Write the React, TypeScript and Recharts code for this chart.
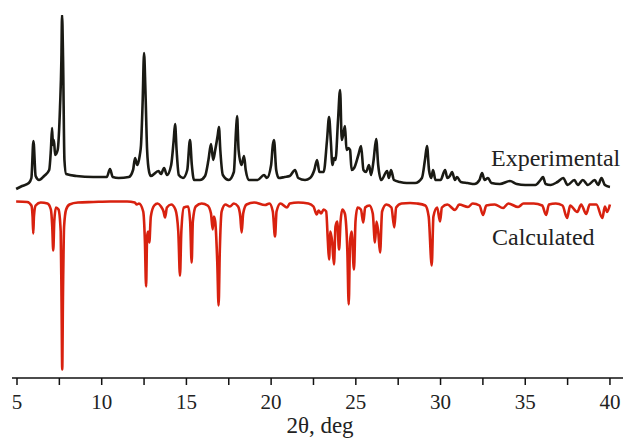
import React from "react";
import { LineChart, Line, XAxis, YAxis, Customized } from "recharts";

// 2θ positions (deg) and intensities (a.u.)
const expTheta = [4.95,5.3,5.7,5.85,5.97,6.1,6.3,6.6,6.9,7.0,7.07,7.12,7.18,7.25,7.4,7.54,7.62,7.66,7.72,7.8,7.9,8.5,9.5,10.3,10.49,10.65,11.0,11.6,11.85,11.97,12.1,12.25,12.32,12.42,12.5,12.58,12.68,12.8,12.9,13.35,13.5,13.68,13.85,14.1,14.25,14.33,14.42,14.55,14.8,15.05,15.21,15.32,15.45,15.8,16.1,16.3,16.45,16.58,16.7,16.85,16.92,17.0,17.15,17.5,17.8,17.93,17.99,18.08,18.25,18.4,18.5,18.7,19.2,19.58,19.75,20.0,20.1,20.17,20.3,20.45,20.8,21.1,21.41,21.6,22.0,22.3,22.55,22.71,22.85,23.1,23.3,23.42,23.52,23.62,23.72,23.8,23.95,24.07,24.17,24.25,24.36,24.45,24.56,24.66,24.75,24.9,25.15,25.31,25.45,25.6,25.78,25.9,26.05,26.2,26.32,26.5,26.85,26.95,27.08,27.25,27.6,28.0,28.5,28.9,29.08,29.2,29.32,29.45,29.56,29.7,30.0,30.27,30.4,30.55,30.68,30.85,30.97,31.2,31.6,32.0,32.3,32.45,32.6,32.8,33.0,33.5,34.1,34.5,35.0,35.6,35.9,36.05,36.2,36.5,36.9,37.24,37.5,37.9,38.1,38.4,38.7,39.1,39.3,39.5,39.7,40.0];
const expIntensity = [11,14,17,22,59,24,20,24,30,50,72,55,60,45,50,93,140,185,140,40,26,24,23,23,31,23,22,23,30,42,35,45,55,100,147,110,50,28,24,29,26,32,25,35,60,76,50,25,22,30,60,35,20,20,24,40,56,40,50,65,73,50,25,20,28,70,84,50,35,44,30,20,20,25,22,35,55,60,30,22,23,24,30,22,20,22,30,40,28,28,60,83,60,35,42,40,80,110,60,65,74,50,52,50,30,32,45,54,30,28,35,25,40,61,35,20,29,22,30,20,18,17,17,22,40,54,30,22,30,20,20,30,22,24,28,20,23,18,17,16,20,27,20,22,17,16,19,16,15,15,20,23,16,15,18,22,15,20,15,20,15,20,15,22,15,13];

const calcTheta = [4.95,5.6,5.85,5.92,5.96,6.0,6.1,6.4,6.8,7.0,7.08,7.14,7.2,7.3,7.45,7.58,7.63,7.67,7.71,7.78,7.9,8.1,8.6,9.5,10.5,11.5,11.95,12.07,12.2,12.45,12.55,12.62,12.68,12.74,12.81,12.9,13.1,13.3,13.5,13.65,13.74,13.85,14.1,14.35,14.52,14.62,14.7,14.85,15.1,15.22,15.31,15.38,15.55,15.9,16.25,16.45,16.55,16.62,16.7,16.82,16.9,16.97,17.08,17.3,17.57,17.8,18.05,18.18,18.26,18.35,18.55,19.0,19.64,19.9,20.1,20.23,20.32,20.55,20.94,21.1,21.6,22.2,22.5,22.69,22.8,22.95,23.1,23.25,23.35,23.42,23.5,23.6,23.71,23.8,23.9,24.01,24.1,24.2,24.35,24.5,24.58,24.66,24.75,24.89,24.98,25.1,25.3,25.44,25.55,25.8,26.0,26.13,26.22,26.32,26.43,26.55,26.8,27.1,27.27,27.38,27.7,28.2,28.6,29.1,29.3,29.48,29.58,29.8,29.97,30.08,30.4,30.86,31.1,31.62,31.9,32.3,32.51,32.7,33.2,33.69,34.0,34.58,34.9,35.5,36.0,36.23,36.4,36.8,37.2,37.47,37.65,38.07,38.3,38.6,38.8,39.2,39.55,39.7,39.83,40.0];
const calcIntensity = [0,0.5,4,15,32,15,4,1,2,8,25,49,20,6,8,30,100,168,100,25,8,3,1,0.5,0,0,1,3,2,10,40,85,35,30,41,15,4,2,5,10,16,6,3,8,30,74,30,6,5,20,61,20,5,2,4,12,28,15,20,60,104,50,10,3,5,2,5,15,31,12,3,1,3.5,2,10,35,10,2,6,2,1,2,5,13,9,12,8,10,40,58,30,40,63,25,20,48,20,8,12,50,103,40,30,68,20,6,8,21,6,4,12,41,20,30,51,10,3,6,26,6,2,1.5,2,4,15,64,15,6,20,6,3,8.5,3,5.5,2,4,13.5,4,3,6.5,2,5.5,2,2,4,13.5,3,2,4,16.5,4,10.5,3,12.5,3,3,16.5,5,10.5,3];

const xTicks = [5,7.5,10,12.5,15,17.5,20,22.5,25,27.5,30,32.5,35,37.5,40];

const EXP_OFFSET = 178;
const CALC_OFFSET = 176.5;

const expData = expTheta.map((t, i) => ({ t, y: EXP_OFFSET + expIntensity[i] }));
const calcData = calcTheta.map((t, i) => ({ t, y: CALC_OFFSET - calcIntensity[i] }));

const FONT = "'Liberation Serif', 'Times New Roman', serif";

const Texts = () => (
  <g fontFamily={FONT} fill="#222">
    <text x={491} y={166} fontSize={24}>Experimental</text>
    <text x={492} y={245} fontSize={24}>Calculated</text>
    <text x={320} y={433} fontSize={23} textAnchor="middle">2θ, deg</text>
  </g>
);

export default function App() {
  return (
    <div style={{ position: "absolute", left: 0, top: 0, width: 623, height: 438, background: "#fff" }}>
      <LineChart width={623} height={438} margin={{ top: 15, right: 0, bottom: 0, left: 12 }}>
        <XAxis
          type="number"
          dataKey="t"
          domain={[4.705, 40.77]}
          allowDataOverflow
          ticks={xTicks}
          interval={0}
          tickFormatter={(v: number) => (v % 5 === 0 ? String(v) : "")}
          height={60}
          tickSize={7}
          tickMargin={9}
          stroke="#111"
          strokeWidth={1.5}
          tick={{ fill: "#222", fontSize: 21, fontFamily: FONT }}
        />
        <YAxis hide type="number" domain={[0, 363]} allowDataOverflow />
        <Line data={expData} dataKey="y" type="monotoneX" stroke="#1a1a14" strokeWidth={2.6} strokeLinejoin="round" dot={false} isAnimationActive={false} />
        <Line data={calcData} dataKey="y" type="monotoneX" stroke="#d8210f" strokeWidth={2.6} strokeLinejoin="round" dot={false} isAnimationActive={false} />
        <Customized component={Texts} />
      </LineChart>
    </div>
  );
}
